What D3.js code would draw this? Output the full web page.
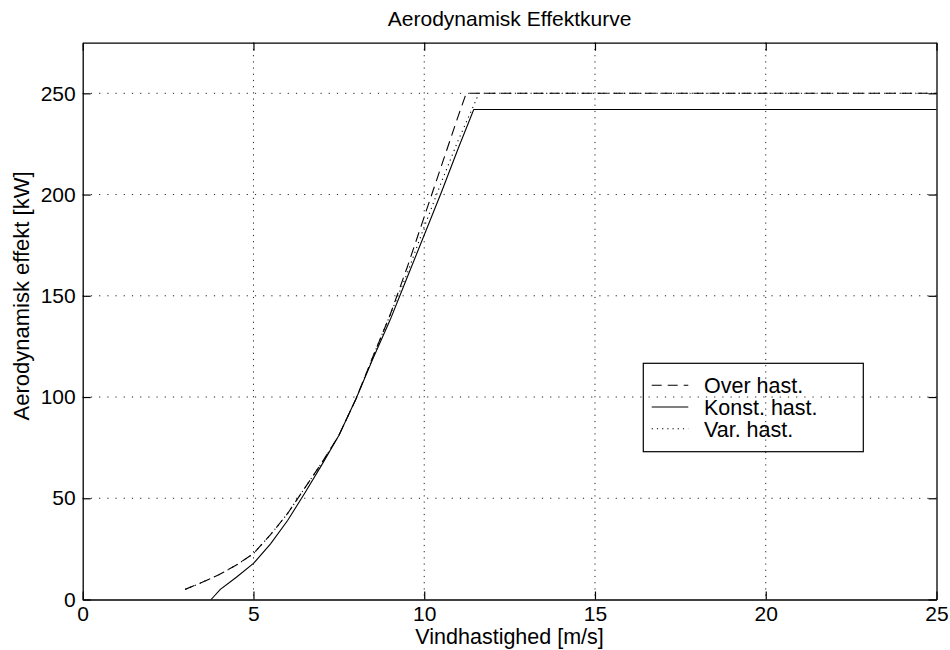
<!DOCTYPE html>
<html>
<head>
<meta charset="utf-8">
<script src="https://cdn.jsdelivr.net/npm/d3@7"></script>
<style>
  body { margin: 0; background: #fff; }
  text { font-family: "Liberation Sans", Arial, Helvetica, sans-serif; fill: #000; }
</style>
</head>
<body>
<div id="chart"></div>
<script>
//data, wind speed in m/s and power in kW
let overSpeed = [3, 3.5, 4, 4.5, 5, 5.5, 6, 6.5, 7, 7.5, 8, 8.5, 9, 9.5, 10, 10.5, 11, 11.23, 25];
let overPower = [5, 8.5, 12.3, 17, 22.7, 32, 42.5, 55, 67.5, 81, 99, 120, 140.5, 164, 189, 214, 239, 250, 250];

let konstSpeed = [3.76, 4.03, 4.5, 5, 5.5, 6, 6.5, 7, 7.5, 8, 8.5, 9, 9.5, 10, 10.5, 11, 11.45, 25];
let konstPower = [0, 5, 11, 17.8, 27.5, 39, 52.5, 66.5, 81, 99, 119, 138, 159, 180, 201, 223, 242, 242];

let varSpeed = [3, 3.5, 4, 4.5, 5, 5.5, 6, 6.5, 7, 7.5, 8, 8.5, 9, 9.5, 10, 10.5, 11, 11.5, 11.6, 25];
let varPower = [5, 8.5, 12.3, 17, 22.7, 32, 42.5, 55, 67.5, 81, 99, 120, 140.5, 161, 184, 206, 227, 246, 250, 250];

let xTicks = [0, 5, 10, 15, 20, 25];
let yTicks = [0, 50, 100, 150, 200, 250];
let legendNames = ['Over hast.', 'Konst. hast.', 'Var. hast.'];

//section 1 sizes of the figure
let width = 950;
let height = 650;
let plotLeft = 82.7;
let plotRight = 936.5;
let plotTop = 42.7;
let plotBottom = 599.5;
let tickLen = 8;
let fontFamily = '"Liberation Sans", Arial, Helvetica, sans-serif';

let svg = d3
  .select('#chart')
  .append('svg')
  .attr('width', width)
  .attr('height', height);

let x = d3.scaleLinear().domain([0, 25]).range([plotLeft, plotRight]);
let y = d3.scaleLinear().domain([0, 275]).range([plotBottom, plotTop]);

//GRID================================================
//dotted grid, the picture is stretched so the dots sit further apart on the horizontal lines
svg.append('g')
  .selectAll('line')
  .data(xTicks.filter(d => d > 0 && d < 25))
  .join('line')
  .attr('x1', d => x(d)).attr('x2', d => x(d))
  .attr('y1', plotTop).attr('y2', plotBottom)
  .attr('stroke', '#222')
  .attr('stroke-width', 1)
  .attr('stroke-dasharray', '1.2,5');

svg.append('g')
  .selectAll('line')
  .data(yTicks.filter(d => d > 0))
  .join('line')
  .attr('x1', plotLeft).attr('x2', plotRight)
  .attr('y1', d => y(d)).attr('y2', d => y(d))
  .attr('stroke', '#222')
  .attr('stroke-width', 1)
  .attr('stroke-dasharray', '1.2,7');

//AXES================================================
function styleAxis(g) {
  g.attr('font-family', fontFamily).attr('font-size', 21);
  g.select('.domain').attr('stroke', '#000').attr('stroke-width', 1.3);
  g.selectAll('.tick line').attr('stroke', '#000').attr('stroke-width', 1.2);
}

svg.append('g')
  .attr('transform', `translate(0,${plotBottom})`)
  .call(d3.axisBottom(x).tickValues(xTicks).tickSize(-tickLen).tickSizeOuter(0).tickPadding(7))
  .call(styleAxis);

svg.append('g')
  .attr('transform', `translate(0,${plotTop})`)
  .call(d3.axisTop(x).tickValues(xTicks).tickSize(-tickLen).tickSizeOuter(0).tickFormat(''))
  .call(styleAxis);

svg.append('g')
  .attr('transform', `translate(${plotLeft},0)`)
  .call(d3.axisLeft(y).tickValues(yTicks).tickSize(-tickLen).tickSizeOuter(0).tickPadding(7))
  .call(styleAxis);

svg.append('g')
  .attr('transform', `translate(${plotRight},0)`)
  .call(d3.axisRight(y).tickValues(yTicks).tickSize(-tickLen).tickSizeOuter(0).tickFormat(''))
  .call(styleAxis);

//CURVES================================================
let line = d3.line()
  .x(d => x(d[0]))
  .y(d => y(d[1]));

let curves = [
  { speed: overSpeed, power: overPower, dash: '10,6' },
  { speed: konstSpeed, power: konstPower, dash: null },
  { speed: varSpeed, power: varPower, dash: '1.2,4' }
];

svg.append('g')
  .selectAll('path')
  .data(curves)
  .join('path')
  .attr('d', c => line(c.speed.map((s, i) => [s, c.power[i]])))
  .attr('fill', 'none')
  .attr('stroke', '#000')
  .attr('stroke-width', 1.1)
  .attr('stroke-dasharray', c => c.dash);

//LEGEND================================================
let legend = svg.append('g').attr('transform', 'translate(643.3,363.3)');
legend.append('rect')
  .attr('width', 220)
  .attr('height', 88.4)
  .attr('fill', 'none')
  .attr('stroke', '#000')
  .attr('stroke-width', 1.2);

let rows = legend.selectAll('g.row')
  .data(legendNames)
  .join('g')
  .attr('class', 'row')
  .attr('transform', (d, i) => `translate(0,${30 + i * 21.7})`);

rows.append('line')
  .attr('x1', 8.4).attr('x2', 45)
  .attr('y1', -8).attr('y2', -8)
  .attr('stroke', '#000')
  .attr('stroke-width', 1.1)
  .attr('stroke-dasharray', (d, i) => curves[i].dash);

rows.append('text')
  .attr('x', 60.7)
  .attr('font-size', 21.5)
  .text(d => d);

//LABELS================================================
svg.append('text')
  .attr('x', (plotLeft + plotRight) / 2)
  .attr('y', 26)
  .attr('text-anchor', 'middle')
  .attr('font-size', 21)
  .text('Aerodynamisk Effektkurve');

svg.append('text')
  .attr('x', (plotLeft + plotRight) / 2)
  .attr('y', 644)
  .attr('text-anchor', 'middle')
  .attr('font-size', 21.5)
  .text('Vindhastighed [m/s]');

svg.append('text')
  .attr('transform', 'translate(29,296) rotate(-90)')
  .attr('text-anchor', 'middle')
  .attr('font-size', 22)
  .text('Aerodynamisk effekt [kW]');
</script>
</body>
</html>
